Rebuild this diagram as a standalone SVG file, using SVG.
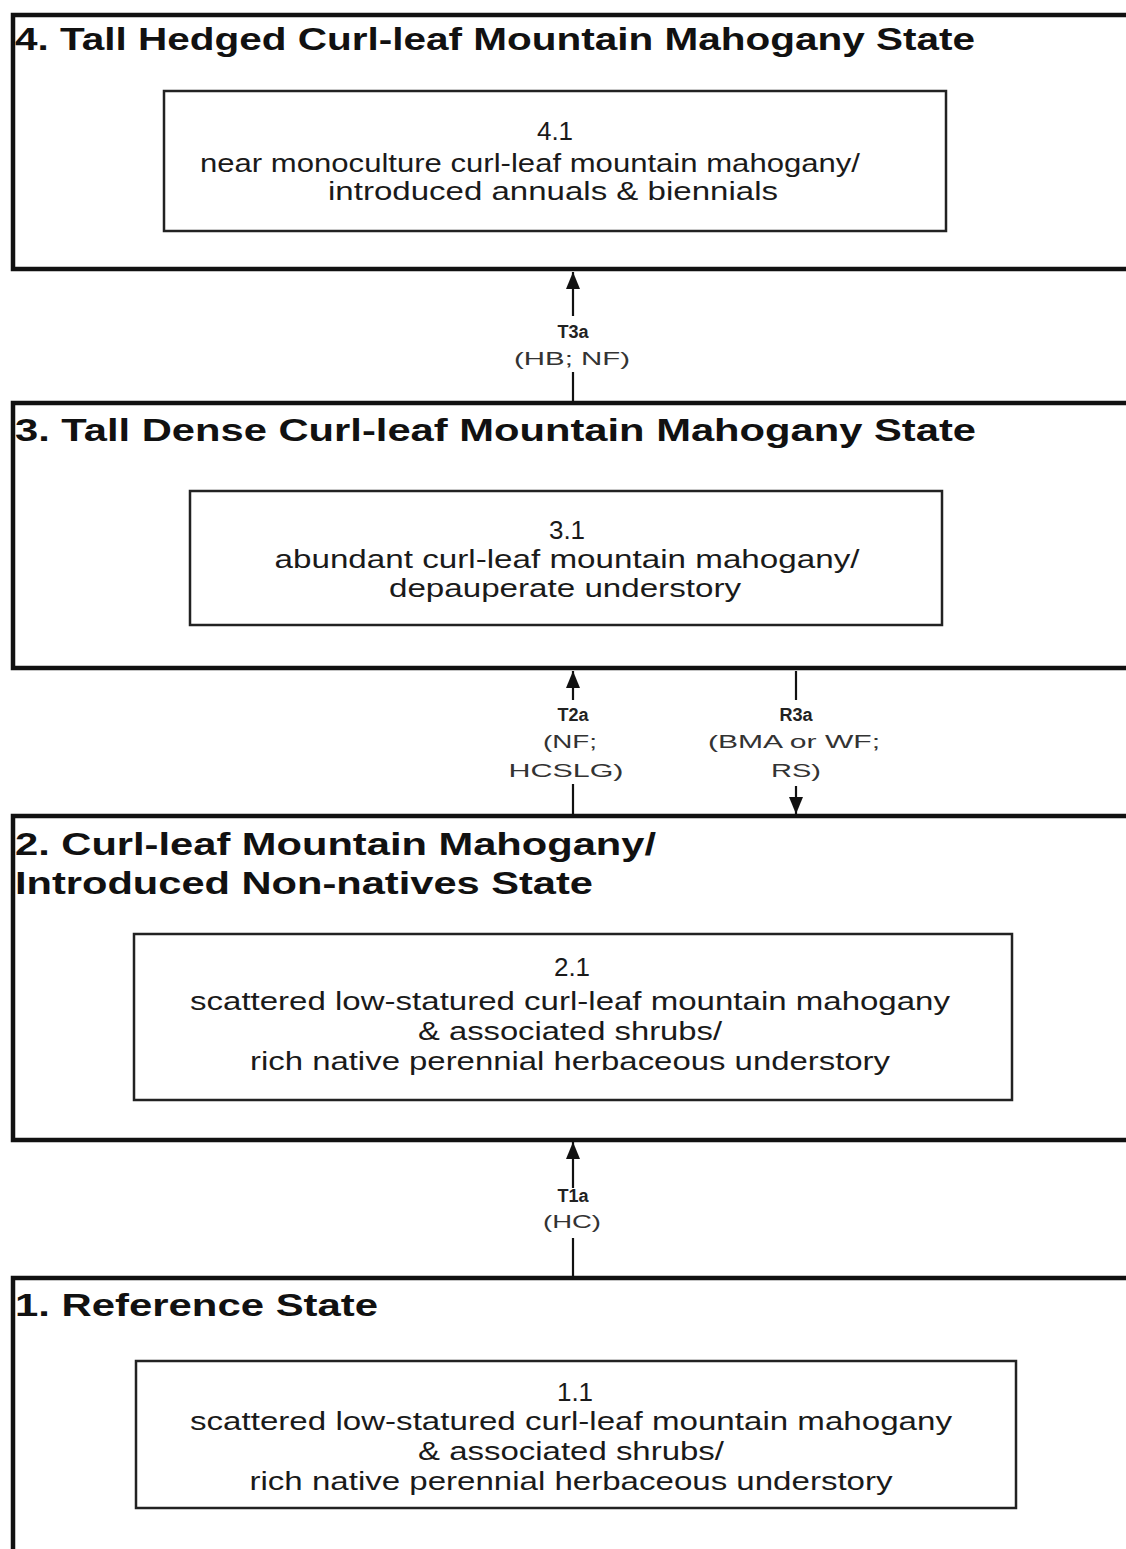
<svg xmlns="http://www.w3.org/2000/svg" width="1126" height="1549" viewBox="0 0 1126 1549">
<style>
.outer{fill:#fff;stroke:#111;stroke-width:4.5}
.inner{fill:#fff;stroke:#222;stroke-width:2.5}
.title{font-family:"Liberation Sans",Arial,sans-serif;font-weight:bold;font-size:32px;fill:#111}
.body{font-family:"Liberation Sans",Arial,sans-serif;font-size:26px;fill:#1a1a1a;text-anchor:middle}
.lab{font-family:"Liberation Sans",Arial,sans-serif;font-weight:bold;font-size:18px;fill:#222;text-anchor:middle}
.lab2{font-family:"Liberation Sans",Arial,sans-serif;font-size:19px;fill:#333;text-anchor:middle}
.conn{stroke:#111;stroke-width:2.2;fill:none}
</style>
<defs>
<marker id="ah" markerUnits="userSpaceOnUse" markerWidth="18" markerHeight="16" refX="17" refY="7" orient="auto" viewBox="0 0 18 14">
<path d="M0,0 L17,7 L0,14 Z" fill="#111"/>
</marker>
</defs>
<rect width="1126" height="1549" fill="#fff"/>

<g id="state4">
<rect class="outer" x="13" y="15" width="1130" height="254"/>
<text class="title" x="15" y="50" textLength="960" lengthAdjust="spacingAndGlyphs">4. Tall Hedged Curl-leaf Mountain Mahogany State</text>
<g id="phase4-1">
<rect class="inner" x="164" y="91" width="782" height="140"/>
<text class="body" x="555" y="140">4.1</text>
<text class="body" x="530" y="172" textLength="660" lengthAdjust="spacingAndGlyphs">near monoculture curl-leaf mountain mahogany/</text>
<text class="body" x="553" y="200" textLength="450" lengthAdjust="spacingAndGlyphs">introduced annuals &amp; biennials</text>
</g>
</g>

<g id="state3">
<rect class="outer" x="13" y="403" width="1130" height="265"/>
<text class="title" x="15" y="441" textLength="961" lengthAdjust="spacingAndGlyphs">3. Tall Dense Curl-leaf Mountain Mahogany State</text>
<g id="phase3-1">
<rect class="inner" x="190" y="491" width="752" height="134"/>
<text class="body" x="567" y="539">3.1</text>
<text class="body" x="567" y="568" textLength="585" lengthAdjust="spacingAndGlyphs">abundant curl-leaf mountain mahogany/</text>
<text class="body" x="565" y="597" textLength="352" lengthAdjust="spacingAndGlyphs">depauperate understory</text>
</g>
</g>

<g id="state2">
<rect class="outer" x="13" y="816" width="1130" height="324"/>
<text class="title" x="15" y="855" textLength="641" lengthAdjust="spacingAndGlyphs">2. Curl-leaf Mountain Mahogany/</text>
<text class="title" x="15" y="894" textLength="578" lengthAdjust="spacingAndGlyphs">Introduced Non-natives State</text>
<g id="phase2-1">
<rect class="inner" x="134" y="934" width="878" height="166"/>
<text class="body" x="572" y="976">2.1</text>
<text class="body" x="570" y="1010" textLength="760" lengthAdjust="spacingAndGlyphs">scattered low-statured curl-leaf mountain mahogany</text>
<text class="body" x="570" y="1040" textLength="304" lengthAdjust="spacingAndGlyphs">&amp; associated shrubs/</text>
<text class="body" x="570" y="1070" textLength="640" lengthAdjust="spacingAndGlyphs">rich native perennial herbaceous understory</text>
</g>
</g>

<g id="state1">
<rect class="outer" x="13" y="1278" width="1130" height="290"/>
<text class="title" x="15" y="1316" textLength="363" lengthAdjust="spacingAndGlyphs">1. Reference State</text>
<g id="phase1-1">
<rect class="inner" x="136" y="1361" width="880" height="147"/>
<text class="body" x="575" y="1401">1.1</text>
<text class="body" x="571" y="1430" textLength="762" lengthAdjust="spacingAndGlyphs">scattered low-statured curl-leaf mountain mahogany</text>
<text class="body" x="571" y="1460" textLength="306" lengthAdjust="spacingAndGlyphs">&amp; associated shrubs/</text>
<text class="body" x="571" y="1490" textLength="643" lengthAdjust="spacingAndGlyphs">rich native perennial herbaceous understory</text>
</g>
</g>

<g id="connectors">
<g id="T3a">
<line class="conn" x1="573" y1="316" x2="573" y2="272" marker-end="url(#ah)"/>
<line class="conn" x1="573" y1="372" x2="573" y2="401"/>
<text class="lab" x="573" y="338">T3a</text>
<text class="lab2" x="572" y="365" textLength="116" lengthAdjust="spacingAndGlyphs">(HB; NF)</text>
</g>
<g id="T2a">
<line class="conn" x1="573" y1="700" x2="573" y2="671" marker-end="url(#ah)"/>
<line class="conn" x1="573" y1="784" x2="573" y2="814"/>
<text class="lab" x="573" y="721">T2a</text>
<text class="lab2" x="570" y="748" textLength="54" lengthAdjust="spacingAndGlyphs">(NF;</text>
<text class="lab2" x="566" y="777" textLength="115" lengthAdjust="spacingAndGlyphs">HCSLG)</text>
</g>
<g id="R3a">
<line class="conn" x1="796" y1="671" x2="796" y2="700"/>
<line class="conn" x1="796" y1="786" x2="796" y2="814" marker-end="url(#ah)"/>
<text class="lab" x="796" y="721">R3a</text>
<text class="lab2" x="794" y="748" textLength="172" lengthAdjust="spacingAndGlyphs">(BMA or WF;</text>
<text class="lab2" x="796" y="777" textLength="50" lengthAdjust="spacingAndGlyphs">RS)</text>
</g>
<g id="T1a">
<line class="conn" x1="573" y1="1188" x2="573" y2="1142" marker-end="url(#ah)"/>
<line class="conn" x1="573" y1="1238" x2="573" y2="1276"/>
<text class="lab" x="573" y="1202">T1a</text>
<text class="lab2" x="572" y="1228" textLength="58" lengthAdjust="spacingAndGlyphs">(HC)</text>
</g>
</g>
</svg>
